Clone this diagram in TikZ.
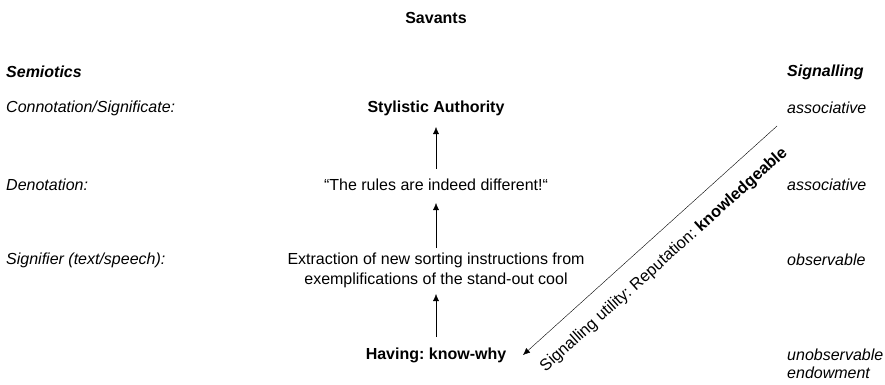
\documentclass[tikz,border=0pt]{standalone}
\usepackage{fontspec}
\usetikzlibrary{arrows.meta}
\setmainfont{Liberation Sans}
\frenchspacing
\newcommand{\txtsize}{\fontsize{16}{19}\selectfont}
\begin{document}
\begin{tikzpicture}[x=1pt,y=-1pt,
  lbl/.style={font=\txtsize\itshape, anchor=west, inner sep=0pt},
  ctr/.style={font=\txtsize, align=center, inner sep=0pt},
  up/.style={-{Latex[length=7pt,width=6pt]}, thin}]
\useasboundingbox (0,0) rectangle (885,384);
% title and column heads
\node[ctr, font=\txtsize\bfseries] (title) at (436,18) {Savants};
\node[lbl, font=\txtsize\bfseries\itshape] (sem) at (6,72) {Semiotics};
\node[lbl, font=\txtsize\bfseries\itshape] (sig) at (787,72) {Signalling};
% semiotic levels
\node[lbl] (conn) at (6,108) {Connotation/Significate:};
\node[lbl] (deno) at (6,185) {Denotation:};
\node[lbl] (sigr) at (6,260) {Signifier (text/speech):};
% signalling levels
\node[lbl] (as1) at (787,108) {associative};
\node[lbl] (as2) at (787,185) {associative};
\node[lbl] (obs) at (787,260) {observable};
\node[lbl, align=left, font=\fontsize{16}{18.5}\selectfont\itshape] (unob) at (787,364) {unobservable\\endowment};
% central chain
\node[ctr, font=\txtsize\bfseries] (auth) at (436,108) {Stylistic Authority};
\node[ctr] (rules) at (436,185) {“The rules are indeed different!“};
\node[ctr, font=\fontsize{16}{20}\selectfont] (extr) at (436,270) {Extraction of new sorting instructions from\\exemplifications of the stand-out cool};
\node[ctr, font=\txtsize\bfseries] (have) at (436,355) {Having: know-why};
\draw[up] (436,169) -- (436,127);
\draw[up] (436,248) -- (436,203);
\draw[up] (436,337) -- (436,294);
% signalling arrow with its label set parallel beneath it
\coordinate (ds) at (777,126);
\coordinate (de) at (523,355);
\draw[-{Latex[length=7pt,width=6pt]}, thin] (ds) -- (de);
\node[font=\fontsize{16.3}{19}\selectfont, inner sep=0pt, rotate=42] (util) at (664,260)
  {Signalling utility: Reputation: \textbf{knowledgeable}};
\end{tikzpicture}
\end{document}
